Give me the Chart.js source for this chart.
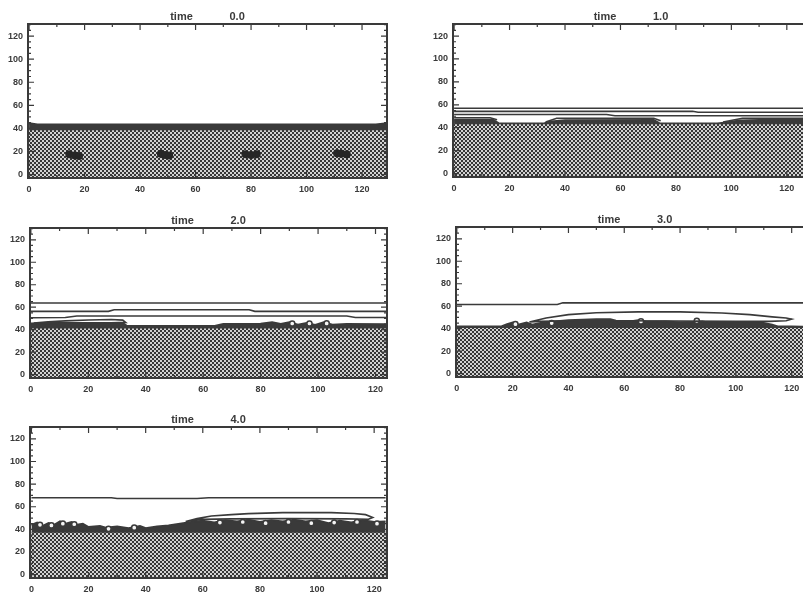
<!DOCTYPE html>
<html>
<head>
<meta charset="utf-8">
<script src="https://cdn.jsdelivr.net/npm/chart.js@4/dist/chart.umd.min.js"></script>
<style>
  html, body { margin: 0; padding: 0; background: #fff; overflow: hidden; }
  body { width: 803px; height: 594px; position: relative; }
  canvas { position: absolute; }
</style>
</head>
<body>
<canvas id="p0"></canvas>
<canvas id="p1"></canvas>
<canvas id="p2"></canvas>
<canvas id="p3"></canvas>
<canvas id="p4"></canvas>
<script>
// tick labels and panel titles
const xTicks = [0, 20, 40, 60, 80, 100, 120];
const yTicks = [0, 20, 40, 60, 80, 100, 120];
const times = ['0.0', '1.0', '2.0', '3.0', '4.0'];

// top of the hatched layer, one per panel
const bedTop = [38.5, 43, 41, 40.5, 37];

// time 0.0
const surf0 = [[0,44.5],[3,43.3],[125,43.3],[129,44.5]];
const blobs0 = [[14.5,17.5],[16.5,16.5],[18,16],[47.5,18],[49,17],[50.5,16.5],[78,17.5],[80,17],[82,17.5],[111,18.5],[112.5,18],[114.5,17.5]];

// time 1.0
const lines1 = [
  [[0,57],[128,57]],
  [[0,54.3],[86,54.3],[88,53.5],[128,53.5]],
  [[0,51.5],[55,51.5],[58,50.5],[128,50.5]],
  [[0,48.7],[13,48.7],[15.5,47]],
  [[33,45],[37,48.3],[72,48.3],[74.5,46]],
  [[97,45],[104,48.2],[128,48.2]]
];
const surf1 = [[0,47],[14,47],[16,44],[32,43.6],[35,45.5],[40,46.5],[72,46.8],[74,44],[95,43.6],[98,44.5],[103,46.3],[110,46.8],[128,46.8]];

// time 2.0
const lines2 = [
  [[0,63.7],[124,63.7]],
  [[0,56.3],[27,56.3],[29,57.8],[76,57.8],[78,56.3],[124,56.3]],
  [[0,50.6],[12,50.8],[16,52.2],[110,52.2],[113,50.8],[124,50.8]],
  [[1,46],[6,47],[12,47.8],[20,48.6],[28,49],[32,48.5],[33,46.5],[28,46.2],[15,46],[5,45.8],[1,46]]
];
const surf2 = [[0,45.5],[10,46],[32,46],[33.5,43.3],[64,43.3],[67,45],[80,45.3],[84,46.5],[87,45],[90,46.5],[93,44.5],[96,46],[99,44.2],[102,46.5],[105,44.5],[110,45],[124,44.8]];
const bubbles2 = [[91,45.5],[97,45.5],[103,45.6]];

// time 3.0
const lines3 = [
  [[0,61.5],[36,61.5],[38,63],[128,63]],
  [[26,46],[32,49.5],[40,52.5],[50,54.2],[65,55],[80,55],[95,54],[105,52.5],[113,50.5],[118,49.5],[120,48.5],[118,47],[112,46.5],[100,46.5],[60,47],[40,47],[30,46.5],[26,46]]
];
const surf3 = [[0,42],[16,42],[18,44],[20,45.5],[22,43.5],[25,45.5],[27,43.5],[30,45],[35,46.5],[40,47.5],[45,48],[50,48.5],[55,48.5],[57,47],[62,46.5],[65,47.5],[68,46],[75,46.5],[80,45.5],[85,46],[88,46.5],[90,45.5],[100,45],[110,45],[113,43.5],[115,42],[120,42],[128,41.5]];
const bubbles3 = [[86,47],[21,44],[34,45],[66,46.5]];

// time 4.0
const lines4 = [
  [[0,68],[28,68],[30,67.3],[58,67.3],[62,68],[124,68]],
  [[54,47],[58,49.5],[63,51.8],[70,53],[76,53.9],[88,54.8],[105,54.8],[113,54],[117,53],[119.5,50.5],[118,49],[110,49.3],[90,49.5],[70,49.3],[60,48.8],[54,47]]
];
const surf4 = [[0,44],[2,46],[4,43],[6,45.5],[8,44],[10,47],[12,45],[14,46.5],[16,44],[18,45],[20,42],[24,43],[26,41.5],[30,42.5],[34,41],[38,43],[40,41],[44,42.5],[48,43.5],[52,45],[56,46.5],[60,47.5],[64,46],[68,48],[72,47],[76,48.5],[80,46.5],[84,48],[88,47],[92,48.5],[96,47],[100,48],[104,45.5],[108,47.5],[112,46],[116,48],[120,46.5],[124,47]];
const bubbles4 = [[3,44],[7,43.5],[11,45],[15,44.5],[27,40.5],[36,41.5],[66,46],[74,46.5],[82,45.5],[90,46.5],[98,45.5],[106,46],[114,46.5],[121,45]];

const ink = '#3a3a3a';
const font = 'Liberation Sans, Arial, sans-serif';
const axW = 28, titleH = 24, axH = 20, padR = 10;

function checker() {
  const p = document.createElement('canvas');
  p.width = 4; p.height = 4;
  const g = p.getContext('2d');
  g.fillStyle = '#d2d2d2'; g.fillRect(0, 0, 4, 4);
  g.fillStyle = '#363636'; g.fillRect(0, 0, 2, 2); g.fillRect(2, 2, 2, 2);
  return g.createPattern(p, 'repeat');
}
const hatch = checker();

const pts = a => a.map(([x, y]) => ({x, y}));

// frame and inward IDL-style ticks on all four sides
const frame = {
  id: 'frame',
  afterDatasetsDraw(chart) {
    const {ctx, chartArea: a, scales: {x, y}} = chart;
    ctx.save();
    ctx.strokeStyle = ink;
    ctx.lineWidth = 1.2;
    ctx.beginPath();
    for (let v = 0; v <= x.max; v += 10) {
      const px = x.getPixelForValue(v), len = v % 20 ? 3 : 6;
      ctx.moveTo(px, a.bottom); ctx.lineTo(px, a.bottom - len);
      ctx.moveTo(px, a.top); ctx.lineTo(px, a.top + len);
    }
    for (let v = 0; v <= y.max; v += 5) {
      const py = y.getPixelForValue(v), len = v % 20 ? 3 : 6;
      ctx.moveTo(a.left, py); ctx.lineTo(a.left + len, py);
      ctx.moveTo(a.right, py); ctx.lineTo(a.right - len, py);
    }
    ctx.stroke();
    ctx.lineWidth = 2;
    ctx.strokeRect(a.left, a.top, a.right - a.left, a.bottom - a.top);
    ctx.restore();
  }
};

function panel(i, box, xr, lines, surf, bubbles, blobs) {
  const c = document.getElementById('p' + i);
  c.width = (box.r - box.l) + axW + padR;
  c.height = (box.b - box.t) + titleH + axH;
  c.style.left = (box.l - axW) + 'px';
  c.style.top = (box.t - titleH) + 'px';

  // lower "order" is drawn on top
  const datasets = [];
  lines.forEach(l => datasets.push({ order: 0, data: pts(l), borderColor: ink, borderWidth: 1.6, pointRadius: 0, fill: false, tension: 0 }));
  if (blobs) datasets.push({ order: 1, data: pts(blobs), showLine: false, pointRadius: 4, pointBackgroundColor: '#262626', pointBorderWidth: 0 });
  if (bubbles) datasets.push({ order: 1, data: pts(bubbles), showLine: false, pointRadius: 2.6, pointBackgroundColor: '#f4f4f4', pointBorderColor: ink, pointBorderWidth: 1.5 });
  datasets.push({ order: 2, data: pts([[xr[0], bedTop[i]], [xr[1], bedTop[i]]]), borderColor: 'transparent', pointRadius: 0, fill: 'start', backgroundColor: hatch });
  datasets.push({ order: 3, data: pts(surf), borderColor: ink, borderWidth: 2, pointRadius: 0, fill: 'start', backgroundColor: ink, tension: 0 });

  new Chart(c, {
    type: 'line',
    data: { datasets },
    options: {
      responsive: false,
      animation: false,
      events: [],
      layout: { padding: { right: padR }, autoPadding: false },
      plugins: {
        legend: { display: false },
        tooltip: { enabled: false },
        title: {
          display: true, fullSize: false, color: ink,
          text: 'time' + ' '.repeat(12) + times[i],
          font: { family: font, size: 11, weight: 'bold', lineHeight: 1 },
          padding: { top: 11, bottom: 2 }
        }
      },
      scales: {
        x: {
          type: 'linear', min: xr[0], max: xr[1],
          grid: { display: false, tickLength: 0 }, border: { display: false },
          afterBuildTicks: s => { s.ticks = xTicks.map(v => ({ value: v })); },
          afterFit: s => { s.height = axH; },
          ticks: { color: ink, padding: 6, maxRotation: 0, autoSkip: false, font: { family: font, size: 9, weight: 'bold' } }
        },
        y: {
          type: 'linear', min: -3, max: 130.5,
          grid: { display: false, tickLength: 0 }, border: { display: false },
          afterBuildTicks: s => { s.ticks = yTicks.map(v => ({ value: v })); },
          afterFit: s => { s.width = axW; },
          ticks: { color: ink, padding: 5, autoSkip: false, font: { family: font, size: 9, weight: 'bold' } }
        }
      }
    },
    plugins: [frame]
  });
}

panel(0, { l: 28, t: 24, r: 387, b: 178 }, [-0.4, 129], [], surf0, null, blobs0);
panel(1, { l: 453, t: 24, r: 809, b: 177 }, [-0.4, 128], lines1, surf1, null, null);
panel(2, { l: 30, t: 228, r: 387, b: 378 }, [-0.3, 124], lines2, surf2, bubbles2, null);
panel(3, { l: 456, t: 227, r: 814, b: 377 }, [-0.3, 128], lines3, surf3, bubbles3, null);
panel(4, { l: 30, t: 427, r: 387, b: 578 }, [-0.5, 124.5], lines4, surf4, bubbles4, null);
</script>
</body>
</html>
